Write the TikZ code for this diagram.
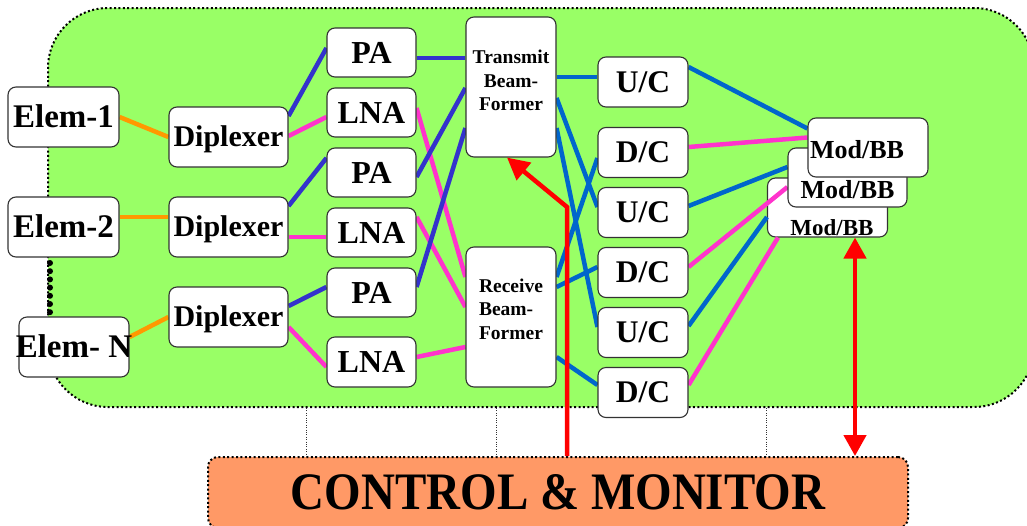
\documentclass[tikz,border=0pt]{standalone}
\usepackage{fontspec}
\setmainfont{Liberation Serif}
\usetikzlibrary{arrows.meta,calc}
\definecolor{grnfill}{HTML}{99FF66}
\definecolor{ctrlfill}{HTML}{FF9966}
\definecolor{orng}{HTML}{FF9900}
\definecolor{pnk}{HTML}{FF33CC}
\definecolor{dblu}{HTML}{3333CC}
\definecolor{lblu}{HTML}{0066CC}
\definecolor{redc}{HTML}{FF0000}
\pgfdeclarelayer{bg}
\pgfdeclarelayer{lns}
\pgfsetlayers{bg,lns,main}
\begin{document}
\begin{tikzpicture}[x=1pt,y=-1pt,
  box/.style={draw=black!80, line width=1.1pt, fill=white, rounded corners=8pt, inner sep=0pt, text depth=0pt},
  fs/.style={font=\bfseries\fontsize{#1}{#1}\selectfont},
  fsl/.style 2 args={font=\bfseries\fontsize{#1}{#2}\selectfont},
  elemsz/.style={box, minimum width=111pt, minimum height=60pt, fs=33, text height=21.8pt},
  dipsz/.style={box, minimum width=119pt, minimum height=60pt, fs=30, text height=19.8pt},
  ampsz/.style={box, minimum width=89pt, minimum height=49pt, fs=32, text height=21.1pt},
  bfsz/.style={box, minimum width=90pt, minimum height=140pt},
  cvsz/.style={box, minimum width=90pt, minimum height=50pt, fs=31.5, text height=20.8pt},
  modsz/.style={box, minimum width=120pt, minimum height=59pt},
  dotb/.style={draw=black, line width=2pt, dash pattern=on 2pt off 2.4pt},
  thind/.style={draw=black!80, line width=0.8pt, dash pattern=on 0.8pt off 1.6pt},
  lk/.style={line width=4.5pt},
  redarr/.style={draw=redc, line width=4.5pt}
]
\useasboundingbox (0,0) rectangle (1027,525);

\begin{pgfonlayer}{bg}
\node[dotb, fill=grnfill, rounded corners=60pt, minimum width=986pt, minimum height=399pt, inner sep=0pt] (grn) at (541,207.5) {};
\node[modsz, label={[fs=23, xshift=4.5pt, yshift=-20.5pt]center:Mod/BB}] (mC) at (827.5,207.5) {};
\end{pgfonlayer}

% left column
\node[elemsz] (e1) at (63.5,117) {Elem-1};
\node[elemsz] (e2) at (63.5,227) {Elem-2};
\node[elemsz, minimum width=110pt] (eN) at (74,347) {\makebox[100pt]{Elem- N}};
\coordinate (dA) at (50,263);
\foreach \k in {0,...,6} {
  \fill[black] (dA) ++(0,\k*8.2) circle (3pt);
}

\node[dipsz] (d1) at (228.5,137) {Diplexer};
\node[dipsz] (d2) at (228.5,227) {Diplexer};
\node[dipsz] (d3) at (228.5,317) {Diplexer};

\node[ampsz] (pa1) at (371.5,52.5) {PA};
\node[ampsz] (lna1) at (371.5,112.5) {LNA};
\node[ampsz] (pa2) at (371.5,172.5) {PA};
\node[ampsz] (lna2) at (371.5,232.5) {LNA};
\node[ampsz] (pa3) at (371.5,292.5) {PA};
\node[ampsz, minimum height=50pt] (lna3) at (371.5,362) {LNA};

\node[bfsz, label={[fsl={19.5}{23.5}, align=center, yshift=6.5pt]center:Transmit\\Beam-\\Former}] (tx) at (511,87) {};
\node[bfsz, label={[fsl={19.5}{23.5}, align=left, yshift=8pt]center:Receive\\Beam-\\Former}] (rx) at (511,317) {};

\node[cvsz] (uc1) at (643,82) {U/C};
\node[cvsz] (dc1) at (643,152.5) {D/C};
\node[cvsz] (uc2) at (643,212.5) {U/C};
\node[cvsz] (dc2) at (643,272.5) {D/C};
\node[cvsz] (uc3) at (643,332.5) {U/C};
\node[cvsz] (dc3) at (643,392.5) {D/C};

\node[modsz, minimum width=119pt, label={[fs=26, yshift=-12.5pt]center:Mod/BB}] (mB) at (847.5,177.5) {};
\node[modsz, label={[fs=26, xshift=-11pt, yshift=-2.5pt]center:Mod/BB}] (mA) at (868,147.5) {};

% control box
\node[dotb, fill=ctrlfill, rounded corners=10pt, minimum width=700pt, minimum height=71pt, inner sep=0pt, fs=47] (ctrl) at (558,492.5) {\scalebox{1}[1.12]{CONTROL \& MONITOR}};

% thin dotted ties
\foreach \xx in {306,496,766} {
  \draw[thind] (grn.south -| \xx,0) -- (ctrl.north -| \xx,0);
}

\begin{pgfonlayer}{lns}
\draw[lk, orng] (e1.east) -- (d1.west);
\draw[lk, orng] ([yshift=10pt]e2.east) -- ([yshift=10pt]d2.west);
\draw[lk, orng] ([yshift=10pt]eN.east) -- (d3.west);
\draw[lk, dblu] ([yshift=21pt]d1.east) -- ([yshift=4.5pt]pa1.west);
\draw[lk, pnk] ([yshift=1pt]d1.east) -- ([yshift=-4.5pt]lna1.west);
\draw[lk, dblu] ([yshift=21pt]d2.east) -- ([yshift=14.5pt]pa2.west);
\draw[lk, pnk] ([yshift=-10pt]d2.east) -- ([yshift=-4.5pt]lna2.west);
\draw[lk, dblu] ([yshift=11pt]d3.east) -- ([yshift=5.5pt]pa3.west);
\draw[lk, pnk] ([yshift=-10pt]d3.east) -- ([yshift=-5pt]lna3.west);
\draw[lk, dblu] ([yshift=-5.5pt]pa1.east) -- ([yshift=29pt]tx.west);
\draw[lk, pnk] ([yshift=4.5pt]lna1.east) -- ([yshift=40pt]rx.west);
\draw[lk, dblu] ([yshift=-4.5pt]pa2.east) -- ([yshift=-1pt]tx.west);
\draw[lk, pnk] ([yshift=15.5pt]lna2.east) -- ([yshift=10pt]rx.west);
\draw[lk, dblu] ([yshift=5.5pt]pa3.east) -- ([yshift=-41pt]tx.west);
\draw[lk, pnk] ([yshift=5pt]lna3.east) -- ([yshift=-30pt]rx.west);
\draw[lk, lblu] ([yshift=10pt]tx.east) -- ([yshift=5pt]uc1.west);
\draw[lk, lblu] ([yshift=-11pt]tx.east) -- ([yshift=5.5pt]uc2.west);
\draw[lk, lblu] ([yshift=-41pt]tx.east) -- ([yshift=5.5pt]uc3.west);
\draw[lk, lblu] ([yshift=40pt]rx.east) -- ([yshift=-5.5pt]dc1.west);
\draw[lk, lblu] ([yshift=30pt]rx.east) -- ([yshift=5.5pt]dc2.west);
\draw[lk, lblu] ([yshift=-40pt]rx.east) -- ([yshift=7.5pt]dc3.west);
\draw[lk, lblu] ([yshift=15pt]uc1.east) -- ([yshift=19pt]mA.west);
\draw[lk, pnk] ([yshift=5.5pt]dc1.east) -- ([yshift=10pt]mA.west);
\draw[lk, lblu] ([yshift=6.5pt]uc2.east) -- ([yshift=10.5pt]mB.west);
\draw[lk, pnk] ([yshift=5.5pt]dc2.east) -- ([yshift=-9.5pt]mB.west);
\draw[lk, lblu] ([yshift=6.5pt]uc3.east) -- ([yshift=-9.5pt]mC.west);
\draw[lk, pnk] ([yshift=7.5pt]dc3.east) -- ([xshift=-49.5pt]mC.south);
\end{pgfonlayer}

% red arrows
\coordinate (rbend) at (567,207);
\draw[redarr, -{Triangle[length=22pt,width=22pt]}] ([xshift=9pt]ctrl.north) -- (rbend) -- ([xshift=-4pt]tx.south);
\coordinate (mbx) at ([xshift=27.5pt]mC.south);
\draw[redarr, {Triangle[length=21pt,width=22pt]}-{Triangle[length=21pt,width=22pt]}] (mbx) -- (mbx |- ctrl.north);
\end{tikzpicture}
\end{document}
